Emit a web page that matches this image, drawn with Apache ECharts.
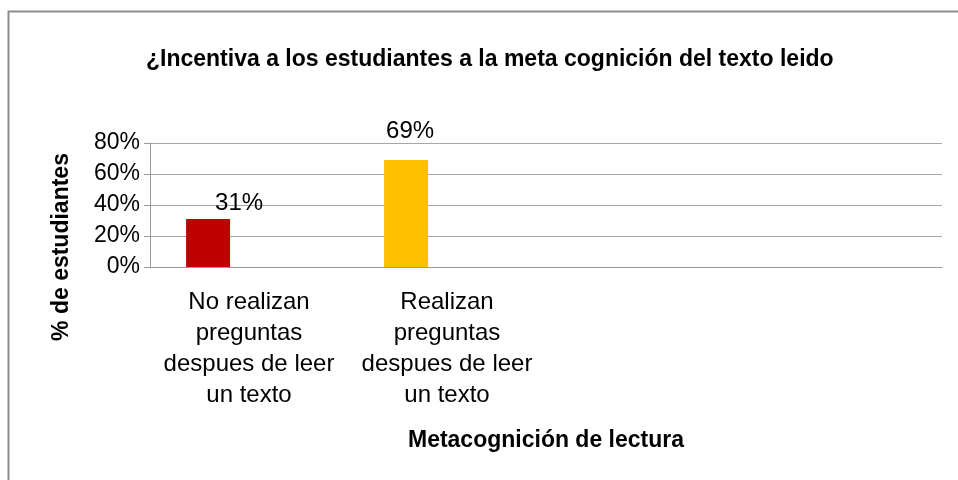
<!DOCTYPE html>
<html lang="es">

<head>
    <meta charset="UTF-8">
    <title>Metacognición de lectura</title>
    <script src="https://cdn.jsdelivr.net/npm/echarts@6.0.0/dist/echarts.min.js"></script>
    <style>
        html, body { margin: 0; padding: 0; background: #fff; }
    </style>
</head>

<body>
    <div id="echart" style="width: 958px; height: 480px;"></div>
</body>

<script>
    // datos
    const categories = [
        'No realizan\npreguntas\ndespues de leer\nun texto',
        'Realizan\npreguntas\ndespues de leer\nun texto',
        '',
        ''
    ];
    const values = [0.31, 0.69, null, null];
    const barColors = ['#C00000', '#FFC000'];
    const labelOffsets = [[31, 1], [4, -12]];
    const yTicks = [0, 0.2, 0.4, 0.6, 0.8];

    const font = '"Liberation Sans Narrow", "Liberation Sans", sans-serif';

    const seriesData = values.map((v, i) => ({
        value: v,
        itemStyle: { color: barColors[i] },
        label: { offset: labelOffsets[i] || [0, 0] }
    }));

    const myChart = echarts.init(document.getElementById('echart'));
    myChart.setOption({
        animation: false,
        title: {
            text: '¿Incentiva a los estudiantes a la meta cognición del texto leido',
            left: 141,
            top: 43,
            textStyle: { fontFamily: font, fontSize: 23, fontWeight: 'bold', color: '#000' }
        },
        grid: { left: 150, right: 16, top: 143, bottom: 213 },
        xAxis: {
            type: 'category',
            data: categories,
            name: 'Metacognición de lectura',
            nameLocation: 'middle',
            nameGap: 162,
            nameTextStyle: { fontFamily: font, fontSize: 23, fontWeight: 'bold', color: '#000' },
            axisLine: { lineStyle: { color: '#9a9a9a', width: 1 } },
            axisTick: { length: 7, lineStyle: { color: '#9a9a9a' } },
            axisLabel: { fontFamily: font, fontSize: 24, color: '#000', lineHeight: 31, margin: 20, interval: 0 }
        },
        yAxis: {
            type: 'value',
            min: yTicks[0],
            max: yTicks[yTicks.length - 1],
            interval: 0.2,
            axisLine: { show: true, lineStyle: { color: '#9a9a9a' } },
            axisTick: { show: true, length: 6, lineStyle: { color: '#9a9a9a' } },
            axisLabel: {
                fontFamily: font, fontSize: 23, color: '#000', margin: 10,
                verticalAlign: 'middle', padding: [7, 0, 0, 0],
                formatter: v => Math.round(v * 100) + '%'
            },
            splitLine: { lineStyle: { color: '#a6a6a6', width: 1 } }
        },
        graphic: [
            {
                type: 'rect',
                shape: { x: 8.5, y: 11.5, width: 1000, height: 1000 },
                style: { fill: 'none', stroke: '#8c8c8c', lineWidth: 2 },
                silent: true
            },
            {
                // título del eje Y
                type: 'text',
                x: 62,
                y: 247,
                rotation: Math.PI / 2,
                style: {
                    text: '% de estudiantes',
                    fontFamily: font, fontSize: 23, fontWeight: 'bold', fill: '#000',
                    align: 'center', verticalAlign: 'middle'
                },
                silent: true
            }
        ],
        series: [
            {
                type: 'bar',
                data: seriesData,
                barWidth: 44,
                barGap: '-7%',
                label: {
                    show: true,
                    position: 'top',
                    fontFamily: font,
                    fontSize: 24,
                    color: '#000',
                    formatter: p => Math.round(p.value * 100) + '%'
                }
            },
            { type: 'bar', data: [null, null, null, null], barWidth: 44, barGap: '-7%' },
            { type: 'bar', data: [null, null, null, null], barWidth: 44, barGap: '-7%' }
        ]
    });
</script>

</html>
